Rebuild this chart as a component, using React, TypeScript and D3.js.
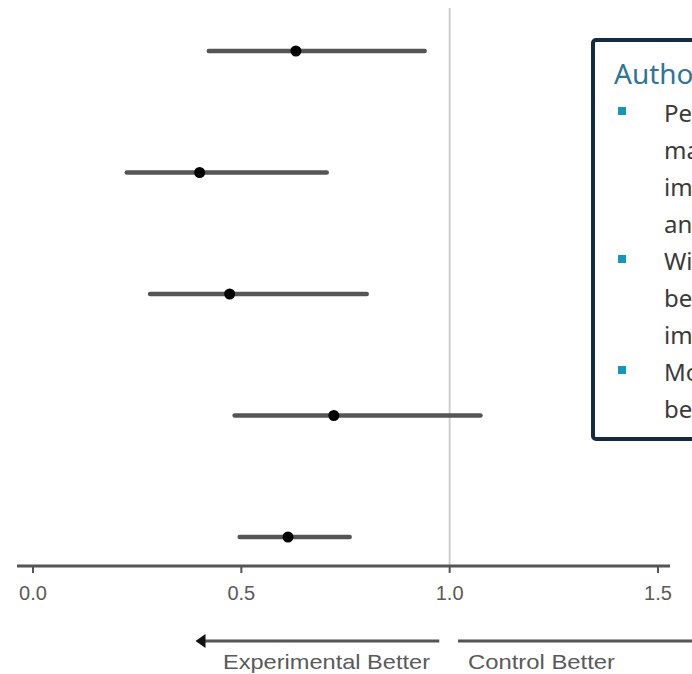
import React, { useRef, useEffect } from "react";
import * as d3 from "d3";

// rows, top to bottom
const rows = ["A", "B", "C", "D", "E"];
const estimate = [0.631, 0.4, 0.472, 0.722, 0.612];
const lower = [0.422, 0.225, 0.281, 0.484, 0.496];
const upper = [0.94, 0.705, 0.801, 1.074, 0.76];
const xTicks = [0, 0.5, 1, 1.5];

const boxTitle = "Authors' conclusions";
const bullets = [
  ["Perioperative therapy", "may reduce recurrence", "improving survival", "and quality of life"],
  ["With a possible", "benefit that remains", "imprecise"],
  ["More trials are needed", "before firm advice"],
];

const sans = "'Liberation Sans', Arial, sans-serif";

const App = () => {
  const ref = useRef<SVGSVGElement>(null);

  useEffect(() => {
    const svg = d3.select(ref.current);
    svg.selectAll("*").remove();

    const width = 692;
    const x = d3.scaleLinear().domain([0, 1.5]).range([33, 658]);
    const y = d3.scalePoint<string>().domain(rows).range([51, 537]);
    const axisY = 566;

    // reference line at 1.0
    svg
      .append("line")
      .attr("x1", x(1))
      .attr("x2", x(1))
      .attr("y1", 8)
      .attr("y2", axisY)
      .attr("stroke", "#cfcfcf")
      .attr("stroke-width", 2);

    // confidence intervals
    const g = svg.append("g");
    g.selectAll("line.ci")
      .data(rows)
      .enter()
      .append("line")
      .attr("class", "ci")
      .attr("x1", (_, i) => x(lower[i]))
      .attr("x2", (_, i) => x(upper[i]))
      .attr("y1", (d) => y(d)!)
      .attr("y2", (d) => y(d)!)
      .attr("stroke", "#555")
      .attr("stroke-width", 4.5)
      .attr("stroke-linecap", "round");

    g.selectAll("circle")
      .data(rows)
      .enter()
      .append("circle")
      .attr("cx", (_, i) => x(estimate[i]))
      .attr("cy", (d) => y(d)!)
      .attr("r", 5.5)
      .attr("fill", "#000");

    // x axis
    svg
      .append("line")
      .attr("x1", 17)
      .attr("x2", 670)
      .attr("y1", axisY)
      .attr("y2", axisY)
      .attr("stroke", "#555")
      .attr("stroke-width", 3);

    const ticks = svg.append("g");
    ticks
      .selectAll("line")
      .data(xTicks)
      .enter()
      .append("line")
      .attr("x1", (d) => x(d))
      .attr("x2", (d) => x(d))
      .attr("y1", axisY)
      .attr("y2", axisY + 7)
      .attr("stroke", "#555")
      .attr("stroke-width", 2);
    ticks
      .selectAll("text")
      .data(xTicks)
      .enter()
      .append("text")
      .attr("x", (d) => x(d))
      .attr("y", 600)
      .attr("text-anchor", "middle")
      .attr("font-family", sans)
      .attr("font-size", 20)
      .attr("fill", "#5a5a5a")
      .text((d) => d3.format(".1f")(d));

    // direction arrows
    const arrowY = 641;
    svg
      .append("line")
      .attr("x1", x(0.975))
      .attr("x2", x(0.41))
      .attr("y1", arrowY)
      .attr("y2", arrowY)
      .attr("stroke", "#555")
      .attr("stroke-width", 3);
    svg
      .append("path")
      .attr("d", `M${x(0.39)},${arrowY} l10,-7 l0,14 z`)
      .attr("fill", "#111");
    svg
      .append("line")
      .attr("x1", x(1.02))
      .attr("x2", width)
      .attr("y1", arrowY)
      .attr("y2", arrowY)
      .attr("stroke", "#555")
      .attr("stroke-width", 3);

    svg
      .append("text")
      .attr("x", 223)
      .attr("y", 669)
      .attr("font-family", sans)
      .attr("font-size", 21)
      .attr("textLength", 207)
      .attr("lengthAdjust", "spacingAndGlyphs")
      .attr("fill", "#5a5a5a")
      .text("Experimental Better");
    svg
      .append("text")
      .attr("x", 468)
      .attr("y", 669)
      .attr("font-family", sans)
      .attr("font-size", 21)
      .attr("textLength", 147)
      .attr("lengthAdjust", "spacingAndGlyphs")
      .attr("fill", "#5a5a5a")
      .text("Control Better");

    // conclusions box
    const box = svg.append("g");
    box
      .append("rect")
      .attr("x", 593)
      .attr("y", 40)
      .attr("width", 200)
      .attr("height", 399)
      .attr("rx", 3)
      .attr("fill", "#fff")
      .attr("stroke", "#122a42")
      .attr("stroke-width", 4);
    box
      .append("text")
      .attr("x", 614)
      .attr("y", 84)
      .attr("font-family", "'Noto Sans', sans-serif")
      .attr("font-size", 28)
      .attr("fill", "#2e7598")
      .text(boxTitle);

    let lineY = 122;
    const lineH = 37;
    bullets.forEach((lines) => {
      box
        .append("rect")
        .attr("x", 618)
        .attr("y", lineY - 15)
        .attr("width", 8)
        .attr("height", 8)
        .attr("fill", "#1597bd");
      lines.forEach((t) => {
        box
          .append("text")
          .attr("x", 664)
          .attr("y", lineY)
          .attr("font-family", "'Noto Sans', sans-serif")
          .attr("font-size", 24)
          .attr("fill", "#3a3a3a")
          .text(t);
        lineY += lineH;
      });
    });
  }, []);

  return (
    <svg
      ref={ref}
      width={692}
      height={674}
      style={{ position: "absolute", left: 0, top: 0, background: "#fff" }}
    />
  );
};

export default App;
